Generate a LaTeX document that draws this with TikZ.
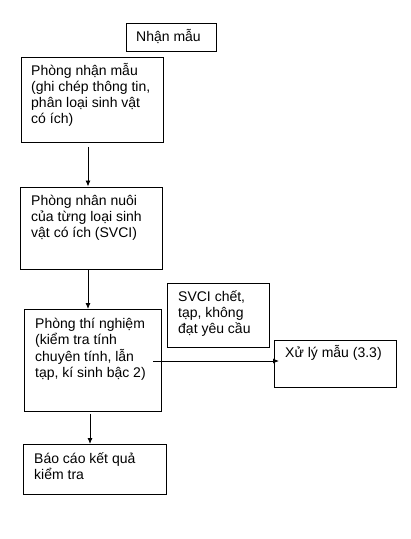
\documentclass[tikz,border=0pt]{standalone}
\usepackage{fontspec}
\setmainfont{Liberation Sans}
\usetikzlibrary{arrows.meta}
\tikzset{
  boxn/.style={draw, line width=0.9pt, inner sep=0pt, anchor=north west},
  txt/.style={anchor=base west, inner sep=0pt, font=\fontsize{14}{16}\selectfont},
  arr/.style={line width=0.9pt, -{Latex[length=6pt,width=5pt]}},
}
\newcommand{\lines}[1]{\begin{tabular}[t]{@{}l@{}}#1\end{tabular}}
\begin{document}
\begin{tikzpicture}[x=1pt,y=-1pt]
\useasboundingbox[fill=white] (0,0) rectangle (411,539);
% boxes
\node[boxn, minimum width=90pt, minimum height=28pt] (nhan) at (126,23) {};
\node[boxn, minimum width=142pt, minimum height=85pt] (b1) at (21,57) {};
\node[boxn, minimum width=142pt, minimum height=82.5pt] (b2) at (20,186.5) {};
\node[boxn, minimum width=102pt, minimum height=64pt] (svci) at (167,283) {};
\node[boxn, minimum width=137pt, minimum height=102pt] (b3) at (24,309) {};
\node[boxn, minimum width=122pt, minimum height=47pt] (xuly) at (274,340) {};
\node[boxn, minimum width=143pt, minimum height=50pt] (b4) at (23,444) {};
% texts
\node[txt] (tnhan) at ([shift={(10pt,-18.5pt)}]nhan.north west) {\lines{Nhận mẫu}};
\node[txt] (tb1) at ([shift={(10pt,-18.5pt)}]b1.north west) {\lines{Phòng nhận mẫu\\(ghi chép thông tin,\\phân loại sinh vật\\có ích)}};
\node[txt] (tb2) at ([shift={(11pt,-18.5pt)}]b2.north west) {\lines{Phòng nhân nuôi\\của từng loại sinh\\vật có ích (SVCI)}};
\node[txt] (tsvci) at ([shift={(11pt,-18.5pt)}]svci.north west) {\lines{SVCI chết,\\tạp, không\\đạt yêu cầu}};
\node[txt] (tb3) at ([shift={(11pt,-19.5pt)}]b3.north west) {\lines{Phòng thí nghiệm\\(kiểm tra tính\\chuyên tính, lẫn\\tạp, kí sinh bậc 2)}};
\node[txt] (txuly) at ([shift={(11pt,-17pt)}]xuly.north west) {\lines{Xử lý mẫu (3.3)}};
\node[txt] (tb4) at ([shift={(11pt,-19.5pt)}]b4.north west) {\lines{Báo cáo kết quả\\kiểm tra}};
% connectors
\draw[arr] ([shift={(67pt,-4pt)}]b1.south west) -- ([xshift=68pt]b2.north west);
\draw[arr] ([xshift=68pt]b2.south west) -- ([xshift=64pt]b3.north west);
\draw[arr] ([shift={(66pt,-2pt)}]b3.south west) -- ([xshift=67pt]b4.north west);
\coordinate (hs) at (153,361);
\draw[arr, shorten >=-5pt] (hs) -- (hs -| xuly.west);
\end{tikzpicture}
\end{document}
